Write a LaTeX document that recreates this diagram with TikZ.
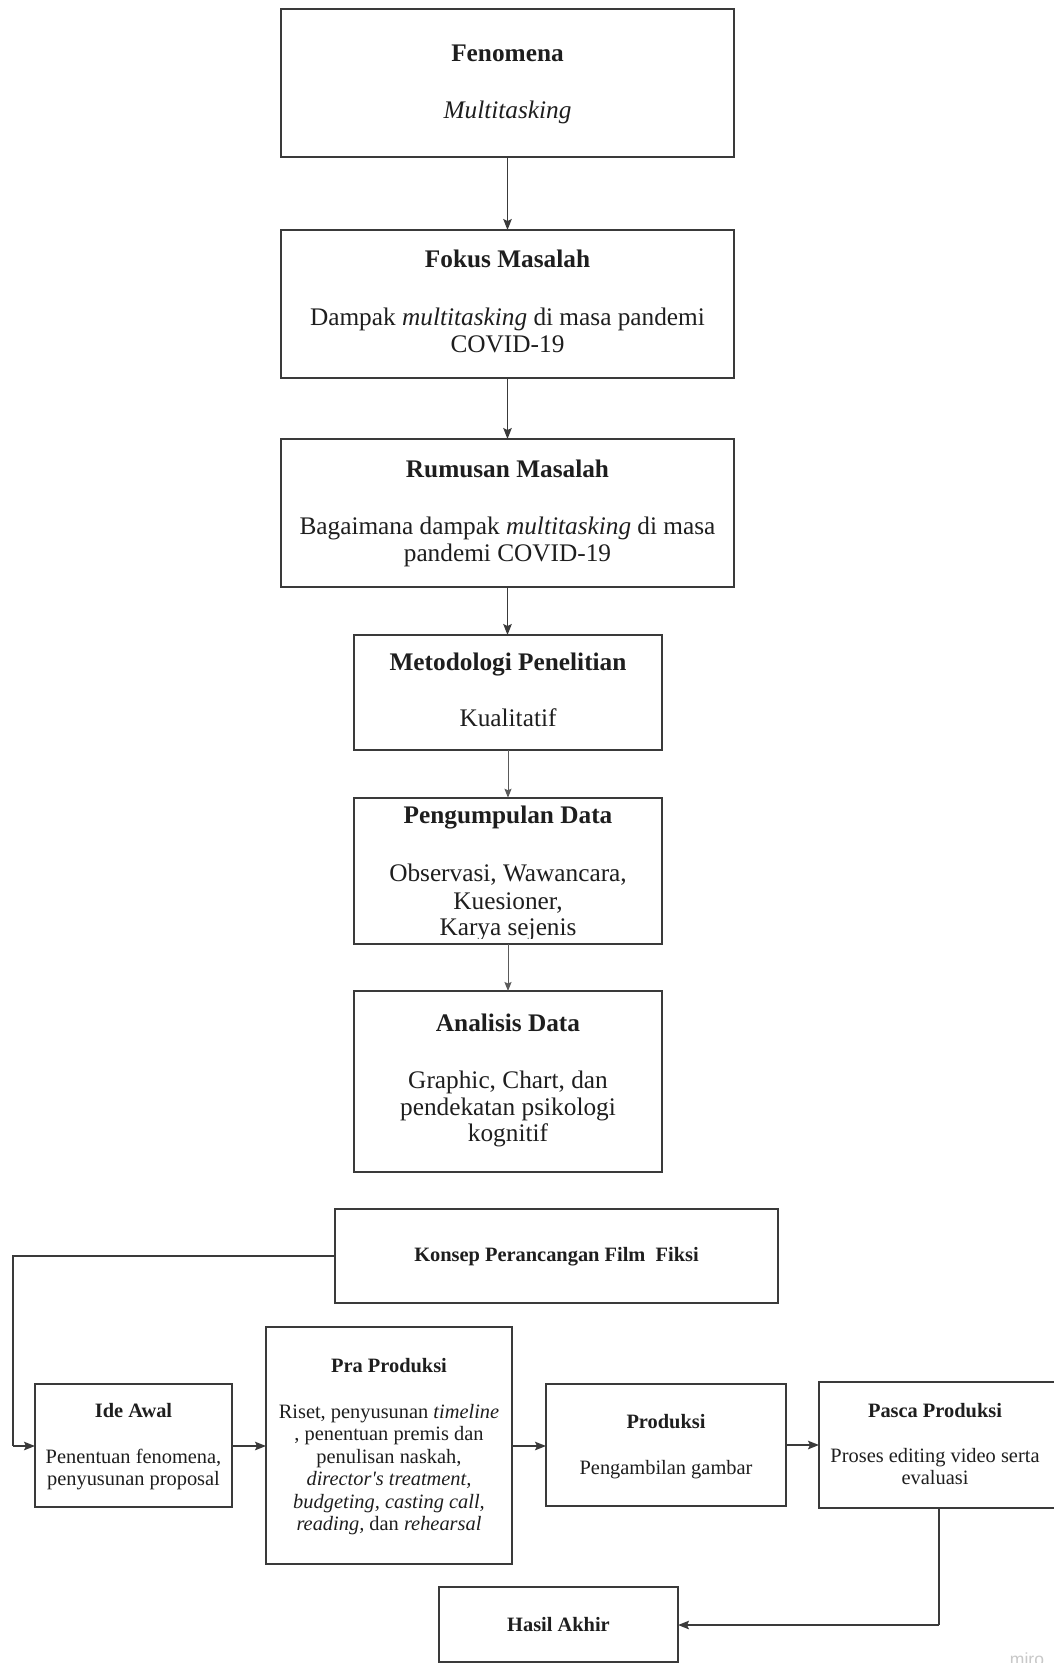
\documentclass[tikz,border=0pt]{standalone}
\usepackage{fontspec}
\setmainfont{Liberation Serif}
\newfontfamily\rawserif{Liberation Serif}
\newfontfamily\wmfont{Liberation Sans}
\usetikzlibrary{arrows.meta}
\definecolor{ink}{HTML}{1E1E1E}
\definecolor{edge}{HTML}{3A3A3A}
\definecolor{thinedge}{HTML}{5A5A5A}
\definecolor{wm}{HTML}{C8C8C8}
\tikzset{
  box/.style={draw=edge, line width=1.8pt, fill=none, inner sep=0pt, outer sep=0pt},
  bigT/.style={anchor=base, inner sep=0pt, text=ink, font=\fontsize{25.3}{29}\selectfont\bfseries},
  bigL/.style={anchor=base, inner sep=0pt, text=ink, font=\fontsize{25.3}{29}\selectfont},
  smT/.style={anchor=base, inner sep=0pt, text=ink, font=\fontsize{20.4}{22.4}\selectfont\bfseries},
  smL/.style={anchor=base, inner sep=0pt, text=ink, font=\fontsize{20.4}{22.4}\selectfont},
  arr/.style={draw=edge, line width=1.6pt, -{Stealth[length=11pt,width=8.5pt,inset=2pt]}},
  thinarr/.style={draw=thinedge, line width=1pt, -{Stealth[length=9pt,width=7pt,inset=1.5pt]}},
  link/.style={draw=edge, line width=1.6pt}
}
\begin{document}
\begin{tikzpicture}[x=1pt,y=-1pt]
\fill[white] (0,0) rectangle (1053,1663);
\useasboundingbox (0,0) rectangle (1053,1663);

% ---------- upper chain ----------
\node[box, minimum width=453, minimum height=148] (fen) at (507.5,83) {};
\node[bigT] (fenT) at (507.5,61) {Fenomena};
\node[bigL] (fenL1) at (507.5,118) {\itshape Multitasking};

\node[box, minimum width=453, minimum height=148] (fok) at (507.5,304) {};
\node[bigT] (fokT) at (507.5,267) {Fokus Masalah};
\node[bigL] (fokL1) at (507.5,325) {Dampak \textit{multitasking} di masa pandemi};
\node[bigL] (fokL2) at (507.5,352) {COVID-19};

\node[box, minimum width=453, minimum height=148] (rum) at (507.5,513) {};
\node[bigT] (rumT) at (507.5,477) {Rumusan Masalah};
\node[bigL] (rumL1) at (507.5,534) {Bagaimana dampak \textit{multitasking} di masa};
\node[bigL] (rumL2) at (507.5,561) {pandemi COVID-19};

\node[box, minimum width=308, minimum height=115] (met) at (508,692.5) {};
\node[bigT] (metT) at (508,670) {Metodologi Penelitian};
\node[bigL] (metL1) at (508,726) {Kualitatif};

\node[box, minimum width=308, minimum height=146.5] (pen) at (508,871) {};
\node[bigT] (penT) at (508,823) {Pengumpulan Data};
\node[bigL] (penL1) at (508,881) {Observasi, Wawancara,};
\node[bigL] (penL2) at (508,909) {Kuesioner,};
\begin{scope}
  \clip (354,797.5) rectangle (662,938.5);
  \node[bigL] (penL3) at (508,935) {Karya sejenis};
\end{scope}

\node[box, minimum width=308, minimum height=181] (ana) at (508,1081.5) {};
\node[bigT] (anaT) at (508,1031) {Analisis Data};
\node[bigL] (anaL1) at (508,1088) {Graphic, Chart, dan};
\node[bigL] (anaL2) at (508,1115) {pendekatan psikologi};
\node[bigL] (anaL3) at (508,1141) {kognitif};

\draw[arr] (fen.south) -- (fok.north);
\draw[arr] (fok.south) -- (rum.north);
\draw[arr] (rum.south) -- (rum.south |- met.north);
\draw[thinarr] (met.south) -- (pen.north);
\draw[thinarr] (pen.south) -- (ana.north);

% ---------- lower flow ----------
\node[box, minimum width=443, minimum height=94] (kon) at (556.5,1256) {};
\node[smT] (konT) at (556.5,1261) {Konsep Perancangan Film\ \ Fiksi};

\node[box, minimum width=197, minimum height=123] (ide) at (133.5,1445.5) {};
\node[smT] (ideT) at (133.5,1417) {Ide Awal};
\node[smL] (ideL1) at (133.5,1463) {Penentuan fenomena,};
\node[smL] (ideL2) at (133.5,1485) {penyusunan proposal};

\node[box, minimum width=246, minimum height=237] (pra) at (389,1445.5) {};
\node[smT] (praT) at (389,1372) {Pra Produksi};
\node[smL] (praL1) at (389,1418) {Riset, penyusunan \textit{timeline}};
\node[smL] (praL2) at (389,1440) {, penentuan premis dan};
\node[smL] (praL3) at (389,1463) {penulisan naskah,};
\node[smL] (praL4) at (389,1485) {\textit{director{\rawserif\itshape '}s treatment,}};
\node[smL] (praL5) at (389,1508) {\textit{budgeting, casting call,}};
\node[smL] (praL6) at (389,1530) {\textit{reading,} dan \textit{rehearsal}};

\node[box, minimum width=240, minimum height=122] (pro) at (666,1445) {};
\node[smT] (proT) at (666,1428) {Produksi};
\node[smL] (proL1) at (666,1474) {Pengambilan gambar};

\node[box, minimum width=236, minimum height=126] (pas) at (937,1445) {};
\node[smT] (pasT) at (935,1417) {Pasca Produksi};
\node[smL] (pasL1) at (935,1462) {Proses editing video serta};
\node[smL] (pasL2) at (935,1484) {evaluasi};

\node[box, minimum width=239, minimum height=75] (has) at (558.5,1624.5) {};
\node[smT] (hasT) at (558.5,1631) {Hasil Akhir};

\coordinate (kc1) at (13,1256);
\coordinate (kc2) at (13,1446);
\draw[link] (kon.west) -- (kc1) -- (kc2);
\draw[arr] (kc2) -- (kc2 -| ide.west);
\draw[arr] (ide.east |- kc2) -- (kc2 -| pra.west);
\draw[arr] (pra.east |- kc2) -- (kc2 -| pro.west);
\draw[arr] (pro.east |- pas.west) -- (pas.west);
\coordinate (pc1) at (939,1625);
\draw[link] (pas.south -| pc1) -- (pc1);
\draw[arr] (pc1) -- (pc1 -| has.east);

% watermark
\node[anchor=base, inner sep=0pt, text=wm, font=\wmfont\fontsize{17.5}{20}\selectfont] (miro) at (1027,1665) {miro};
\end{tikzpicture}
\end{document}
